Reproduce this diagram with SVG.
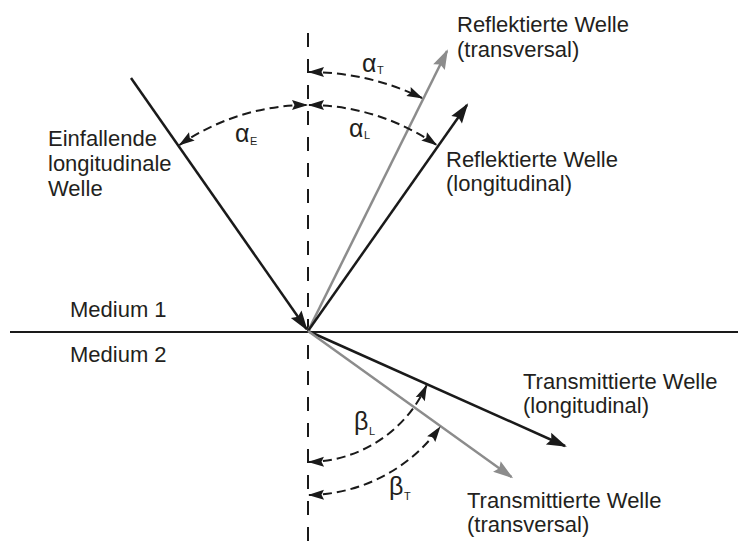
<svg xmlns="http://www.w3.org/2000/svg" width="738" height="553" viewBox="0 0 738 553">
<style>
  .lbl { font-family: "Liberation Sans", Arial, sans-serif; font-size: 22px; fill: #231f20; }
  .gr { font-family: "Liberation Sans", Arial, sans-serif; font-size: 25px; fill: #231f20; }
  .sub { font-family: "Liberation Sans", Arial, sans-serif; font-size: 11px; fill: #231f20; }
  .wave { fill: none; stroke: #1a1a1a; stroke-width: 2.5; }
  .wave.gray { stroke: #8c8c8c; }
  .arc { fill: none; stroke: #1a1a1a; stroke-width: 2; stroke-dasharray: 9 5; }
</style>
<defs>
  <marker id="ah" markerUnits="userSpaceOnUse" markerWidth="26" markerHeight="16" viewBox="-22 -8 26 16" refX="0" refY="0" orient="auto">
    <path d="M2,0 L-18,-6.5 L-15,0 L-18,6.5 Z" fill="#1a1a1a"/>
  </marker>
  <marker id="ahg" markerUnits="userSpaceOnUse" markerWidth="26" markerHeight="16" viewBox="-22 -8 26 16" refX="0" refY="0" orient="auto">
    <path d="M2,0 L-18,-6.5 L-15,0 L-18,6.5 Z" fill="#8c8c8c"/>
  </marker>
  <marker id="ahs" markerUnits="userSpaceOnUse" markerWidth="20" markerHeight="14" viewBox="-17 -7 20 14" refX="0" refY="0" orient="auto-start-reverse">
    <path d="M1,0 L-15,-5 L-12.5,0 L-15,5 Z" fill="#1a1a1a"/>
  </marker>
</defs>

<g id="interface">
  <line x1="10" y1="332" x2="738" y2="332" stroke="#1a1a1a" stroke-width="2"/>
</g>
<g id="normal">
  <line x1="308" y1="33" x2="308" y2="553" stroke="#1a1a1a" stroke-width="2" stroke-dasharray="14 12"/>
</g>

<g id="connectors">
  <line class="wave" x1="131" y1="78" x2="306.5" y2="329" marker-end="url(#ah)"/>
  <line class="wave gray" x1="308" y1="331" x2="447" y2="51" marker-end="url(#ahg)"/>
  <line class="wave" x1="308" y1="331" x2="467" y2="105" marker-end="url(#ah)"/>
  <line class="wave" x1="308" y1="331" x2="565" y2="446" marker-end="url(#ah)"/>
  <line class="wave gray" x1="308" y1="331" x2="511.5" y2="477" marker-end="url(#ahg)"/>
</g>

<g id="angles">
  <path id="arc-aE" class="arc" d="M179.5,145 A226,226 0 0,1 307,105" marker-start="url(#ahs)" marker-end="url(#ahs)"/>
  <path id="arc-aL" class="arc" d="M309,105 A226,226 0 0,1 436.5,145" marker-start="url(#ahs)" marker-end="url(#ahs)"/>
  <path id="arc-aT" class="arc" d="M309,72 A259,259 0 0,1 422,98" marker-start="url(#ahs)" marker-end="url(#ahs)"/>
  <path id="arc-bL" class="arc" d="M309,462 A131,131 0 0,0 426.5,385.5" marker-start="url(#ahs)" marker-end="url(#ahs)"/>
  <path id="arc-bT" class="arc" d="M309,495 A164,164 0 0,0 440,427" marker-start="url(#ahs)" marker-end="url(#ahs)"/>
</g>

<g id="angle-labels">
  <g id="lbl-aE"><text class="gr" x="235" y="142">α</text><text class="sub" x="250" y="145">E</text></g>
  <g id="lbl-aL"><text class="gr" x="349" y="137">α</text><text class="sub" x="364" y="139">L</text></g>
  <g id="lbl-aT"><text class="gr" x="362" y="72">α</text><text class="sub" x="377" y="74">T</text></g>
  <g id="lbl-bL"><text class="gr" x="354" y="430">β</text><text class="sub" x="369" y="435">L</text></g>
  <g id="lbl-bT"><text class="gr" x="389" y="495">β</text><text class="sub" x="404" y="500">T</text></g>
</g>

<g id="node-incident">
  <text class="lbl" x="48" y="146">Einfallende</text>
  <text class="lbl" x="48" y="171">longitudinale</text>
  <text class="lbl" x="48" y="196">Welle</text>
</g>
<g id="node-refl-trans">
  <text class="lbl" x="457" y="32">Reflektierte Welle</text>
  <text class="lbl" x="457" y="57">(transversal)</text>
</g>
<g id="node-refl-long">
  <text class="lbl" x="446" y="167">Reflektierte Welle</text>
  <text class="lbl" x="446" y="191">(longitudinal)</text>
</g>
<g id="node-medium1"><text class="lbl" x="70" y="317">Medium 1</text></g>
<g id="node-medium2"><text class="lbl" x="70" y="362">Medium 2</text></g>
<g id="node-trans-long">
  <text class="lbl" x="523" y="389">Transmittierte Welle</text>
  <text class="lbl" x="523" y="413">(longitudinal)</text>
</g>
<g id="node-trans-trans">
  <text class="lbl" x="467" y="508">Transmittierte Welle</text>
  <text class="lbl" x="467" y="532">(transversal)</text>
</g>
</svg>
